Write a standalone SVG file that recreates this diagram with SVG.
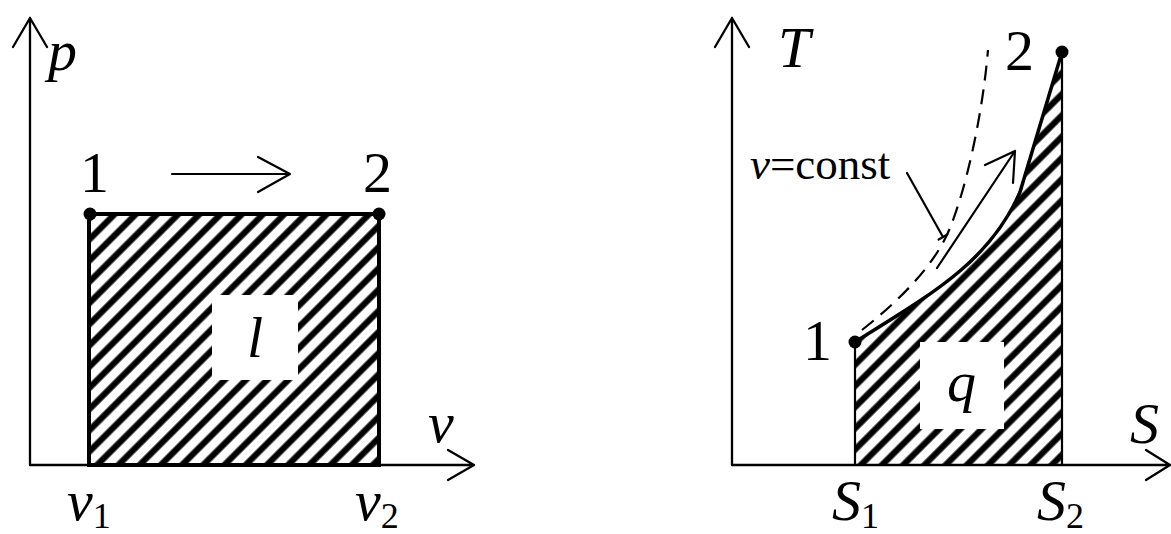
<svg xmlns="http://www.w3.org/2000/svg" width="1171" height="534" viewBox="0 0 1171 534">
<style>
.ax{fill:none;stroke:#000;stroke-width:2.3;stroke-linecap:round;stroke-linejoin:round}
.thin{fill:none;stroke:#000;stroke-width:2.2;stroke-linecap:round;stroke-linejoin:round}
.bold{fill:none;stroke:#000;stroke-width:4}
text{font-family:'Liberation Serif','Times New Roman',serif;font-size:58px;fill:#000}
.i{font-style:italic}
.sub{font-size:36px}
</style>
<defs>
<pattern id="hatch" width="15" height="15" patternUnits="userSpaceOnUse" patternTransform="rotate(45)">
<line x1="7.5" y1="-2" x2="7.5" y2="17" stroke="#000" stroke-width="6.2"/>
</pattern>
</defs>
<rect width="1171" height="534" fill="#fff"/>

<g id="pv-area">
<rect x="89" y="214" width="290" height="251" fill="url(#hatch)"/>
<rect x="212" y="295" width="86" height="85" fill="#fff"/>
<rect x="89" y="214" width="290" height="251" class="bold"/>
<text class="i" x="247" y="357" font-family="Liberation Serif">l</text>
</g>

<g id="pv-axes">
<path class="ax" d="M30,465 V18 M13,47 L30,18 L47,47"/>
<path class="ax" d="M30,465 H474 M448,450 L474,465 L448,480"/>
<text class="i" x="48" y="70" font-family="Liberation Serif">p</text>
<text class="i" x="428" y="442" font-family="Liberation Serif">v</text>
<text x="67" y="520" font-family="Liberation Serif"><tspan class="i">v</tspan><tspan class="sub" dy="8">1</tspan></text>
<text x="355" y="520" font-family="Liberation Serif"><tspan class="i">v</tspan><tspan class="sub" dy="8">2</tspan></text>
</g>

<g id="pv-point1">
<circle cx="90" cy="214" r="6.5" fill="#000"/>
<text x="80" y="192" font-family="Liberation Serif">1</text>
</g>
<g id="pv-point2">
<circle cx="379" cy="214" r="6.5" fill="#000"/>
<text x="363" y="192" font-family="Liberation Serif">2</text>
</g>

<g id="ts-area">
<path d="M855,465 L855,342 C930,295 990,262 1020,192 L1062,52 L1062,465 Z" fill="url(#hatch)"/>
<rect x="920" y="342" width="84" height="87" fill="#fff"/>
<path class="thin" d="M855,465 V342 M1062,52 V465"/>
<path d="M855,342 C930,295 990,262 1020,192 L1062,52" fill="none" stroke="#000" stroke-width="3.5" stroke-linejoin="round"/>
<text class="i" x="947" y="401" font-family="Liberation Serif">q</text>
</g>

<g id="ts-axes">
<path class="ax" d="M732,465 V18 M715,47 L732,18 L749,47"/>
<path class="ax" d="M732,465 H1170 M1146,450 L1170,465 L1146,480"/>
<text class="i" x="778" y="67" font-family="Liberation Serif">T</text>
<text class="i" x="1130" y="443" font-family="Liberation Serif">S</text>
<text x="832" y="520" font-family="Liberation Serif"><tspan class="i">S</tspan><tspan class="sub" dy="8">1</tspan></text>
<text x="1037" y="520" font-family="Liberation Serif"><tspan class="i">S</tspan><tspan class="sub" dy="8">2</tspan></text>
</g>

<g id="ts-point1">
<circle cx="855" cy="342" r="6.5" fill="#000"/>
<text x="803" y="360" font-family="Liberation Serif">1</text>
</g>
<g id="ts-point2">
<circle cx="1062" cy="52" r="6.5" fill="#000"/>
<text x="1005" y="70" font-family="Liberation Serif">2</text>
</g>

<g id="isochore">
<path d="M862,330 C900,300 935,265 950,228 S982,120 988,50" fill="none" stroke="#000" stroke-width="2.2" stroke-dasharray="15 9"/>
<text x="750" y="179" font-family="Liberation Serif" style="font-size:45px"><tspan class="i">v</tspan>=const</text>
</g>

<g id="connectors">
<path class="thin" d="M172,174 H290 M258,157 L290,174 L258,192"/>
<path class="thin" d="M937,268 L1015,151 M985,165 L1015,151 L1013,183"/>
<path class="thin" d="M907,173 L943,237 M938.6,239.5 L947.4,234.5"/>
</g>
</svg>
